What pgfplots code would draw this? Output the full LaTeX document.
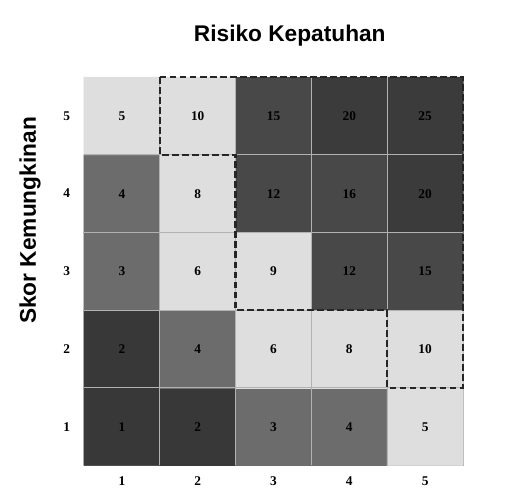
\documentclass[border=0pt]{standalone}
\usepackage{fontspec}
\setmainfont{Liberation Sans}
\newfontfamily\serifb{Liberation Serif}
\usepackage{pgfplots}
\usepackage{pgfplotstable}
\pgfplotsset{compat=1.18}

% x y c(colour class) v(score)
\pgfplotstableread{
x y c v
1 1 4 1
2 1 4 2
3 1 1 3
4 1 1 4
5 1 0 5
1 2 4 2
2 2 1 4
3 2 0 6
4 2 0 8
5 2 0 10
1 3 1 3
2 3 0 6
3 3 0 9
4 3 2 12
5 3 2 15
1 4 1 4
2 4 0 8
3 4 2 12
4 4 2 16
5 4 3 20
1 5 0 5
2 5 0 10
3 5 2 15
4 5 3 20
5 5 3 25
}\riskdata

\begin{document}
\begin{tikzpicture}
\begin{axis}[
    scale only axis,
    width=284pt, height=291pt,
    xmin=0.5, xmax=5.5, ymin=0.5, ymax=5.5,
    enlargelimits=false,
    xtick={1,...,5}, ytick={1,...,5},
    major tick length=0pt,
    axis line style={gray!70, line width=0.5pt},
    tick label style={font=\serifb\bfseries\fontsize{10}{11}\selectfont},
    xticklabel style={yshift=-5pt},
    yticklabel style={xshift=-7pt},
    /pgf/number format/assume math mode=true,
    colormap={risk}{rgb255=(222,222,222) rgb255=(108,108,108) rgb255=(72,72,72) rgb255=(59,59,59) rgb255=(56,56,56)},
    colormap access=direct,
    clip=false,
    title={Risiko Kepatuhan},
    title style={font=\bfseries\fontsize{17}{20}\selectfont, at={(axis description cs:0.543,1.085)}, anchor=center},
    ylabel={Skor Kemungkinan},
    ylabel style={font=\bfseries\fontsize{17}{20}\selectfont, at={(axis description cs:-0.1425,0.631)}, anchor=center},
]
\addplot[
    matrix plot*,
    mesh/cols=5,
    point meta=explicit,
    visualization depends on={\thisrow{v} \as \score},
    nodes near coords={\pgfmathprintnumber[int detect]{\score}},
    every node near coord/.append style={anchor=center, text=black, text height=7pt, text depth=0pt,
        inner sep=0pt, font=\serifb\bfseries\fontsize{10}{11}\selectfont},
] table[x=x, y=y, meta=c] {\riskdata};

% cell borders
\draw[gray!60, line width=0.5pt]
    (axis cs:1.5,0.5) -- (axis cs:1.5,5.5)
    (axis cs:2.5,0.5) -- (axis cs:2.5,5.5)
    (axis cs:3.5,0.5) -- (axis cs:3.5,5.5)
    (axis cs:4.5,0.5) -- (axis cs:4.5,5.5)
    (axis cs:0.5,1.5) -- (axis cs:5.5,1.5)
    (axis cs:0.5,2.5) -- (axis cs:5.5,2.5)
    (axis cs:0.5,3.5) -- (axis cs:5.5,3.5)
    (axis cs:0.5,4.5) -- (axis cs:5.5,4.5);
% dashed boundary
\draw[black!85, line width=1.8pt, dash pattern=on 5pt off 2.5pt]
    (axis cs:1.5,5.5) -- (axis cs:5.5,5.5) -- (axis cs:5.5,1.5) -- (axis cs:4.5,1.5)
    -- (axis cs:4.5,2.5) -- (axis cs:2.5,2.5) -- (axis cs:2.5,4.5) -- (axis cs:1.5,4.5) -- cycle;
\path (axis description cs:-0.2216,-0.0773) rectangle (axis description cs:1.1794,1.1985);
\end{axis}
\end{tikzpicture}
\end{document}
